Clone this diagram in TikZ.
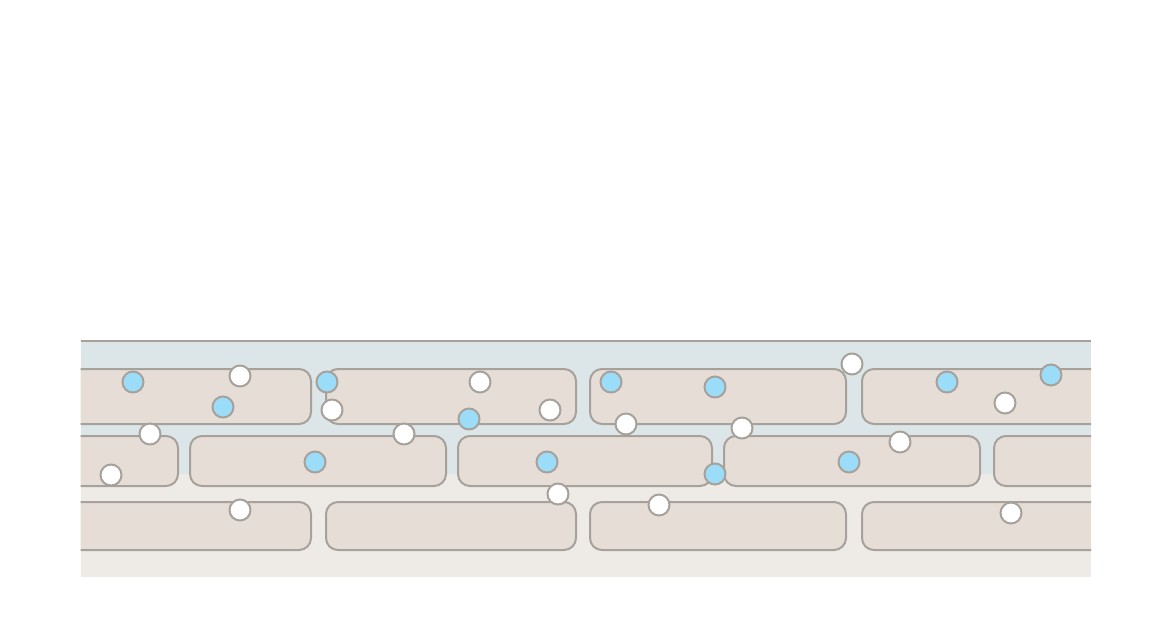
\documentclass[tikz,border=0pt]{standalone}
\usepackage{tikz}
\usetikzlibrary{positioning}
\definecolor{wetband}{HTML}{DCE6E8}
\definecolor{soil}{HTML}{EEEBE7}
\definecolor{brickfill}{HTML}{E6DED6}
\definecolor{edgegray}{HTML}{A7A19C}
\definecolor{drop}{HTML}{9BDDF9}
\begin{document}
\begin{tikzpicture}[x=1pt,y=-1pt,
  brick/.style={draw=edgegray,fill=brickfill,line width=2pt,rounded corners=12pt},
  wet/.style={circle,draw=edgegray,fill=drop,line width=2pt,minimum size=21pt,inner sep=0pt},
  air/.style={circle,draw=edgegray,fill=white,line width=2pt,minimum size=21pt,inner sep=0pt}]
  \useasboundingbox (0,0) rectangle (1172,630);
  % Background
  \fill[soil] (80.5,474) rectangle (1091,577);
  \fill[wetband] (80.5,341) rectangle (1091,474);
  \draw[edgegray,line width=2pt] (80.5,341) -- (1091,341);

  % Bricks
  \begin{scope}
    \clip (80.5,330) rectangle (1091,577);
    \draw[brick] (40,369) rectangle (311,424);
    \draw[brick] (326,369) rectangle (576,424);
    \draw[brick] (590,369) rectangle (846,424);
    \draw[brick] (862,369) rectangle (1130,424);
    \draw[brick] (40,436) rectangle (178,486);
    \draw[brick] (190,436) rectangle (446,486);
    \draw[brick] (458,436) rectangle (712,486);
    \draw[brick] (724,436) rectangle (980,486);
    \draw[brick] (994,436) rectangle (1130,486);
    \draw[brick] (40,502) rectangle (311,550);
    \draw[brick] (326,502) rectangle (576,550);
    \draw[brick] (590,502) rectangle (846,550);
    \draw[brick] (862,502) rectangle (1130,550);
  \end{scope}

  % Water
  \node[wet] (W1) at (133,382) {};
  \node[wet] (W2) at (223,407) {};
  \node[wet] (W3) at (327,382) {};
  \node[wet] (W4) at (469,419) {};
  \node[wet] (W5) at (611,382) {};
  \node[wet] (W6) at (715,387) {};
  \node[wet] (W7) at (947,382) {};
  \node[wet] (W8) at (1051,375) {};
  \node[wet] (W9) at (315,462) {};
  \node[wet] (W10) at (547,462) {};
  \node[wet] (W11) at (715,474) {};
  \node[wet] (W12) at (849,462) {};

  % Air
  \node[air] (A1) at (240,376) {};
  \node[air] (A2) at (480,382) {};
  \node[air] (A3) at (332,410) {};
  \node[air] (A4) at (550,410) {};
  \node[air] (A5) at (626,424) {};
  \node[air] (A6) at (742,428) {};
  \node[air] (A7) at (852,364) {};
  \node[air] (A8) at (1005,403) {};
  \node[air] (A9) at (150,434) {};
  \node[air] (A10) at (404,434) {};
  \node[air] (A11) at (111,475) {};
  \node[air] (A12) at (900,442) {};
  \node[air] (A13) at (558,494) {};
  \node[air] (A14) at (659,505) {};
  \node[air] (A15) at (240,510) {};
  \node[air] (A16) at (1011,513) {};
\end{tikzpicture}
\end{document}
